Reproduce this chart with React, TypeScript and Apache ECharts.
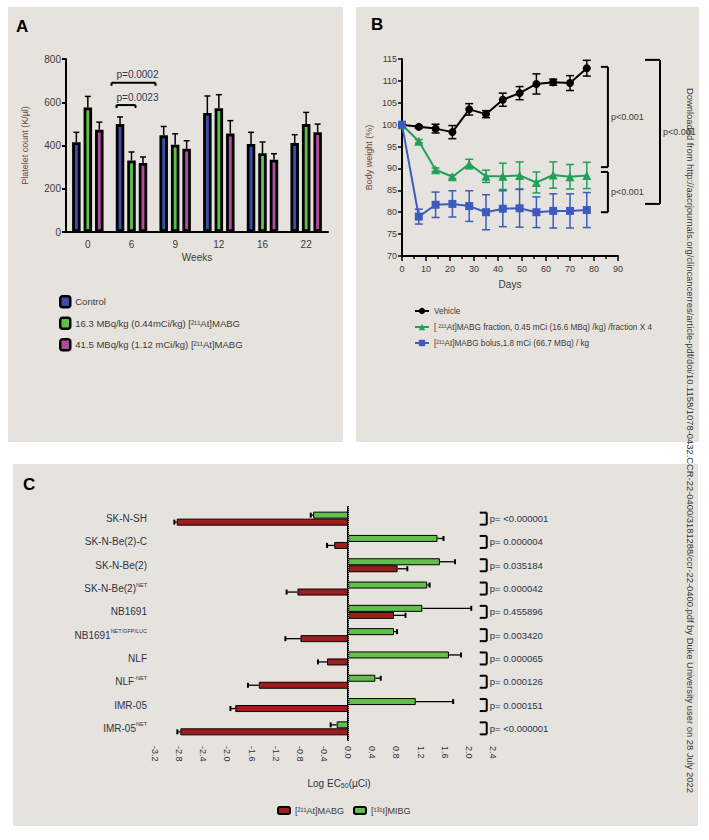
import React, { useEffect, useRef } from "react";
import * as echarts from "echarts";

// ---------- Panel A : platelet counts ----------
const weeks = ["0", "6", "9", "12", "16", "22"];
const namesA = ["Control", "16.3 MBq/kg (0.44mCi/kg) [²¹¹At]MABG", "41.5 MBq/kg (1.12 mCi/kg) [²¹¹At]MABG"];
const controlMean = [415, 499, 447, 550, 407, 411];
const controlErr = [46, 33, 41, 79, 54, 39];
const lowDoseMean = [576, 331, 404, 572, 364, 499];
const lowDoseErr = [51, 39, 50, 63, 52, 54];
const highDoseMean = [473, 319, 385, 455, 334, 461];
const highDoseErr = [35, 28, 37, 60, 28, 38];
const sigALabels = ["p=0.0002", "p=0.0023"];
const sigACat = [1, 1];
const sigAValue = [690, 587];

// ---------- Panel B : body weight ----------
const days = [0, 7, 14, 21, 28, 35, 42, 49, 56, 63, 70, 77];
const namesB = ["Vehicle", "[ ²¹¹At]MABG fraction, 0.45 mCi (16.6 MBq) /kg) /fraction X 4", "[²¹¹At]MABG bolus,1.8 mCi (66.7 MBq) / kg"];
const vehicle = [100, 99.5, 99.1, 98.3, 103.5, 102.4, 105.7, 107.2, 109.3, 109.7, 109.5, 112.9];
const vehicleErr = [0.3, 0.3, 1.0, 1.5, 1.3, 0.8, 1.5, 1.5, 2.3, 0.7, 1.7, 1.8];
const fraction = [100, 96.2, 89.7, 88.1, 91.0, 88.2, 88.2, 88.4, 86.8, 88.5, 88.1, 88.4];
const fractionErr = [0.3, 0.4, 0.4, 0.4, 1.1, 1.4, 3.0, 3.1, 2.4, 3.0, 2.8, 3.0];
const bolus = [100, 79.0, 81.7, 81.9, 81.4, 80.0, 80.8, 80.9, 80.0, 80.3, 80.3, 80.5];
const bolusErr = [0.3, 1.7, 2.9, 3.0, 3.5, 4.0, 4.1, 4.3, 3.5, 3.9, 3.9, 4.0];
const sigBLabels = ["p<0.001", "p<0.001", "p<0.001"];
const sigBX = [85.8, 85.8, 107.5];
const sigBTop = [113.2, 89.2, 114.8];
const sigBBottom = [90.3, 80.0, 81.9];

// ---------- Panel C : log EC50 ----------
const cellBase = ["SK-N-SH", "SK-N-Be(2)-C", "SK-N-Be(2)", "SK-N-Be(2)", "NB1691", "NB1691", "NLF", "NLF", "IMR-05", "IMR-05"];
const cellSup = ["", "", "", "NET", "", "NET/GFP/LUC", "", "-NET", "", "NET"];
const namesC = ["[²¹¹At]MABG", "[¹³¹I]MIBG"];
const mabg = [-2.84, -0.23, 0.82, -0.84, 0.76, -0.79, -0.35, -1.48, -1.87, -2.78];
const mabgErr = [0.04, 0.12, 0.16, 0.18, 0.19, 0.25, 0.15, 0.18, 0.08, 0.05];
const mibg = [-0.58, 1.48, 1.52, 1.31, 1.23, 0.76, 1.67, 0.45, 1.12, -0.19];
const mibgErr = [0.04, 0.1, 0.25, 0.04, 0.81, 0.05, 0.2, 0.09, 0.62, 0.1];
const pValues = ["p= <0.000001", "p= 0.000004", "p= 0.035184", "p= 0.000042", "p= 0.455896", "p= 0.003420", "p= 0.000065", "p= 0.000126", "p= 0.000151", "p= <0.000001"];
const pBracketX = 2.18;

const watermark =
  "Downloaded from http://aacrjournals.org/clincancerres/article-pdf/doi/10.1158/1078-0432.CCR-22-0400/3181288/ccr-22-0400.pdf by Duke University user on 28 July 2022";

const FONT = "'Liberation Sans', Arial, sans-serif";
const NARROW = "'Liberation Sans Narrow', 'Liberation Sans', Arial, sans-serif";
const TXT = "#3f3833";
const BG = "#e6e3df";

const colorsA = ["#3b4fa8", "#5cc04a", "#b04c9e"];
const colorsB = ["#000000", "#22a05a", "#3c5bbd"];
const RED = "#9e1c1c";
const GREEN = "#62c04a";

const BAR_W_A = 8.5;
const BAR_GAP_A = 0.35;
const BAR_STEP_A = BAR_W_A * (1 + BAR_GAP_A);

function errA(vals: number[], errs: number[], idx: number) {
  const off = (idx - 1) * BAR_STEP_A;
  return {
    type: "custom",
    xAxisIndex: 0,
    yAxisIndex: 0,
    z: 1,
    clip: false,
    data: vals.map((v, i) => [i, v, errs[i]]),
    encode: { x: 0, y: 1 },
    renderItem: (params: any, api: any) => {
      const c = api.value(0);
      const v = api.value(1);
      const e = api.value(2);
      const p0 = api.coord([c, v]);
      const p1 = api.coord([c, v + e]);
      const x = p0[0] + off;
      const st = { stroke: "#000", lineWidth: 1.5 };
      return {
        type: "group",
        children: [
          { type: "line", shape: { x1: x, y1: p0[1], x2: x, y2: p1[1] }, style: st },
          { type: "line", shape: { x1: x - 3, y1: p1[1], x2: x + 3, y2: p1[1] }, style: st },
        ],
      };
    },
  };
}

function errB(vals: number[], errs: number[], color: string) {
  return {
    type: "custom",
    xAxisIndex: 1,
    yAxisIndex: 1,
    z: 2,
    clip: false,
    data: days.map((d, i) => [d, vals[i], errs[i]]),
    encode: { x: 0, y: 1 },
    renderItem: (params: any, api: any) => {
      const x = api.value(0);
      const y = api.value(1);
      const e = api.value(2);
      const t = api.coord([x, y + e]);
      const b = api.coord([x, y - e]);
      const w = 4;
      const st = { stroke: color, lineWidth: 1.5 };
      return {
        type: "group",
        children: [
          { type: "line", shape: { x1: t[0], y1: t[1], x2: b[0], y2: b[1] }, style: st },
          { type: "line", shape: { x1: t[0] - w, y1: t[1], x2: t[0] + w, y2: t[1] }, style: st },
          { type: "line", shape: { x1: b[0] - w, y1: b[1], x2: b[0] + w, y2: b[1] }, style: st },
        ],
      };
    },
  };
}

function errC(vals: number[], errs: number[], dy: number) {
  return {
    type: "custom",
    xAxisIndex: 2,
    yAxisIndex: 2,
    z: 1,
    clip: false,
    data: vals.map((v, i) => [v, i, errs[i]]),
    encode: { x: 0, y: 1 },
    renderItem: (params: any, api: any) => {
      const v = api.value(0);
      const c = api.value(1);
      const e = api.value(2);
      const end = v >= 0 ? v + e : v - e;
      const p0 = api.coord([v, c]);
      const p1 = api.coord([end, c]);
      const y = p0[1] + dy;
      const st = { stroke: "#000", lineWidth: 1.3 };
      return {
        type: "group",
        children: [
          { type: "line", shape: { x1: p0[0], y1: y, x2: p1[0], y2: y }, style: st },
          { type: "line", shape: { x1: p1[0], y1: y - 2.5, x2: p1[0], y2: y + 2.5 }, style: { stroke: "#000", lineWidth: 2 } },
        ],
      };
    },
  };
}

export default function App() {
  const ref = useRef<HTMLDivElement>(null);
  useEffect(() => {
    document.body.style.margin = "0";
    if (!ref.current) return;
    const chart = echarts.init(ref.current, undefined, { renderer: "svg" });

    const bracketSpansA = [
      [-20, 24],
      [-15, 4],
    ];

    const option: any = {
      animation: false,
      textStyle: { fontFamily: FONT, color: TXT },
      graphic: [
        { type: "rect", z: -10, shape: { x: 8, y: 7, width: 335, height: 435 }, style: { fill: BG } },
        { type: "rect", z: -10, shape: { x: 356, y: 7, width: 343, height: 435 }, style: { fill: BG } },
        { type: "rect", z: -10, shape: { x: 13, y: 464, width: 685, height: 362 }, style: { fill: BG } },
        { type: "text", z: 50, x: 16, y: 18, style: { text: "A", font: `bold 17px ${FONT}`, fill: "#000" } },
        { type: "text", z: 50, x: 371, y: 16, style: { text: "B", font: `bold 17px ${FONT}`, fill: "#000" } },
        { type: "text", z: 50, x: 23, y: 476, style: { text: "C", font: `bold 17px ${FONT}`, fill: "#000" } },
        {
          type: "text",
          z: 50,
          x: 339,
          y: 783,
          style: {
            text: "Log EC{sub|50}(µCi)",
            font: `10px ${FONT}`,
            fill: "#2c3344",
            textAlign: "center",
            textVerticalAlign: "middle",
            rich: {
              sub: { fontSize: 7, verticalAlign: "bottom", fontFamily: FONT, fill: "#2c3344", padding: [4, 0, 0, 0] },
            },
          },
        },
        {
          type: "text",
          z: 60,
          x: 690,
          y: 88,
          rotation: -Math.PI / 2,
          style: {
            text: watermark,
            font: `9.4px ${FONT}`,
            fill: "#333",
            textAlign: "left",
            textVerticalAlign: "middle",
          },
        },
      ],
      legend: [
        {
          data: namesA,
          orient: "vertical",
          left: 54,
          top: 290,
          itemWidth: 10,
          itemHeight: 11,
          itemGap: 8,
          textStyle: { fontFamily: NARROW, fontSize: 9.5, color: TXT },
          itemStyle: { borderColor: "#000", borderWidth: 2.5 },
          selectedMode: false,
        },
        {
          data: namesB,
          orient: "vertical",
          left: 409,
          top: 302,
          itemWidth: 14,
          itemHeight: 8,
          itemGap: 8,
          textStyle: { fontFamily: NARROW, fontSize: 8.2, color: TXT },
          selectedMode: false,
        },
        {
          data: namesC,
          orient: "horizontal",
          left: 272,
          top: 801,
          itemWidth: 12,
          itemHeight: 7,
          itemGap: 9,
          textStyle: { fontFamily: NARROW, fontSize: 9, color: TXT },
          selectedMode: false,
        },
      ],
      grid: [
        { left: 66, top: 59, width: 262, height: 173 },
        { left: 402, top: 59, width: 216, height: 197 },
        { left: 155, top: 507, width: 338, height: 233 },
      ],
      xAxis: [
        {
          gridIndex: 0,
          type: "category",
          data: weeks,
          boundaryGap: true,
          name: "Weeks",
          nameLocation: "middle",
          nameGap: 20,
          nameTextStyle: { fontSize: 10, color: TXT },
          axisTick: { show: false },
          axisLine: { lineStyle: { color: "#000", width: 2 } },
          axisLabel: { color: TXT, fontSize: 10, margin: 7 },
        },
        {
          gridIndex: 1,
          type: "value",
          min: 0,
          max: 90,
          interval: 10,
          name: "Days",
          nameLocation: "middle",
          nameGap: 23,
          nameTextStyle: { fontSize: 10, color: TXT },
          splitLine: { show: false },
          axisLine: { lineStyle: { color: "#000", width: 2 } },
          axisTick: { length: 5, lineStyle: { color: "#000", width: 1.5 } },
          minorTick: { show: true, splitNumber: 2, length: 3, lineStyle: { color: "#000", width: 1.5 } },
          axisLabel: { color: TXT, fontSize: 9, margin: 8 },
        },
        {
          gridIndex: 2,
          type: "value",
          min: -3.2,
          max: 2.4,
          interval: 0.4,
          splitLine: { show: false },
          axisLine: { lineStyle: { color: "#000", width: 2 } },
          axisTick: { length: 4, lineStyle: { color: "#000", width: 1.5 } },
          axisLabel: {
            color: "#2c3344",
            fontSize: 9,
            rotate: -90,
            margin: 6,
            formatter: (v: number) => v.toFixed(1),
          },
        },
      ],
      yAxis: [
        {
          gridIndex: 0,
          type: "value",
          min: 0,
          max: 800,
          interval: 200,
          name: "Platelet count (K/µl)",
          nameLocation: "middle",
          nameGap: 37,
          nameTextStyle: { fontSize: 9, color: "#6b4a35" },
          splitLine: { show: false },
          axisLine: { show: true, lineStyle: { color: "#000", width: 2 } },
          axisTick: { show: true, length: 4, lineStyle: { color: "#000", width: 2 } },
          axisLabel: { color: TXT, fontSize: 10, margin: 5 },
        },
        {
          gridIndex: 1,
          type: "value",
          min: 70,
          max: 115,
          interval: 5,
          name: "Body weight (%)",
          nameLocation: "middle",
          nameGap: 29,
          nameTextStyle: { fontSize: 9, color: "#6b4a35" },
          splitLine: { show: false },
          axisLine: { show: true, lineStyle: { color: "#000", width: 2 } },
          axisTick: { show: true, length: 4, lineStyle: { color: "#000", width: 1.5 } },
          axisLabel: { color: TXT, fontSize: 9, margin: 5 },
        },
        {
          gridIndex: 2,
          type: "category",
          inverse: true,
          data: cellBase.map((b, i) => b + cellSup[i]),
          axisLine: { lineStyle: { color: "#000", width: 2 } },
          axisTick: { alignWithLabel: true, length: 3, lineStyle: { color: "#000", width: 2 } },
          axisLabel: {
            color: "#2c3344",
            fontSize: 10,
            margin: 8,
            formatter: (_v: string, i: number) =>
              cellSup[i] ? `{b|${cellBase[i]}}{s|${cellSup[i]}}` : `{b|${cellBase[i]}}`,
            rich: {
              b: { fontSize: 10, color: "#2c3344", lineHeight: 14, fontFamily: FONT },
              s: { fontSize: 5.5, color: "#2c3344", verticalAlign: "top", lineHeight: 8, fontFamily: FONT },
            },
          },
        },
      ],
      series: [
        // Panel A bars
        ...[controlMean, lowDoseMean, highDoseMean].map((vals, k) => ({
          type: "bar",
          name: namesA[k],
          xAxisIndex: 0,
          yAxisIndex: 0,
          data: vals,
          barWidth: BAR_W_A,
          barGap: `${BAR_GAP_A * 100}%`,
          z: 2,
          itemStyle: { color: colorsA[k], borderColor: "#000", borderWidth: 2.8 },
        })),
        errA(controlMean, controlErr, 0),
        errA(lowDoseMean, lowDoseErr, 1),
        errA(highDoseMean, highDoseErr, 2),
        {
          type: "custom",
          xAxisIndex: 0,
          yAxisIndex: 0,
          z: 5,
          clip: false,
          data: sigACat.map((c, i) => [c, sigAValue[i]]),
          encode: { x: 0, y: 1 },
          renderItem: (params: any, api: any) => {
            const p = api.coord([api.value(0), api.value(1)]);
            const [l, r] = bracketSpansA[params.dataIndex];
            const st = { stroke: "#000", lineWidth: 2 };
            return {
              type: "group",
              children: [
                { type: "line", shape: { x1: p[0] + l, y1: p[1], x2: p[0] + r, y2: p[1] }, style: st },
                { type: "line", shape: { x1: p[0] + l, y1: p[1], x2: p[0] + l, y2: p[1] + 3 }, style: st },
                { type: "line", shape: { x1: p[0] + r, y1: p[1], x2: p[0] + r, y2: p[1] + 3 }, style: st },
                {
                  type: "text",
                  x: p[0] - 15,
                  y: p[1] - 8,
                  style: {
                    text: sigALabels[params.dataIndex],
                    font: `10px ${FONT}`,
                    fill: "#2c3a55",
                    textAlign: "left",
                    textVerticalAlign: "middle",
                  },
                },
              ],
            };
          },
        },
        // Panel B
        errB(vehicle, vehicleErr, colorsB[0]),
        errB(fraction, fractionErr, colorsB[1]),
        errB(bolus, bolusErr, colorsB[2]),
        ...[vehicle, fraction, bolus].map((vals, k) => ({
          type: "line",
          name: namesB[k],
          xAxisIndex: 1,
          yAxisIndex: 1,
          data: days.map((d, i) => [d, vals[i]]),
          symbol: ["circle", "triangle", "rect"][k],
          symbolSize: [8, 9, 8][k],
          z: 3,
          color: colorsB[k],
          lineStyle: { color: colorsB[k], width: 2 },
          itemStyle: { color: colorsB[k] },
        })),
        {
          type: "custom",
          xAxisIndex: 1,
          yAxisIndex: 1,
          z: 5,
          clip: false,
          data: sigBX.map((x, i) => [x, sigBTop[i], sigBBottom[i]]),
          encode: { x: 0, y: [1, 2] },
          renderItem: (params: any, api: any) => {
            const t = api.coord([api.value(0), api.value(1)]);
            const b = api.coord([api.value(0), api.value(2)]);
            const arm = params.dataIndex === 2 ? 15 : 7;
            const st = { stroke: "#000", lineWidth: 2 };
            return {
              type: "group",
              children: [
                { type: "line", shape: { x1: t[0], y1: t[1], x2: b[0], y2: b[1] }, style: st },
                { type: "line", shape: { x1: t[0] - arm, y1: t[1], x2: t[0], y2: t[1] }, style: st },
                { type: "line", shape: { x1: b[0] - arm, y1: b[1], x2: b[0], y2: b[1] }, style: st },
                {
                  type: "text",
                  x: t[0] + 3,
                  y: (t[1] + b[1]) / 2,
                  style: {
                    text: sigBLabels[params.dataIndex],
                    font: `9px ${FONT}`,
                    fill: TXT,
                    textAlign: "left",
                    textVerticalAlign: "middle",
                  },
                },
              ],
            };
          },
        },
        // Panel C
        {
          type: "bar",
          name: namesC[1],
          xAxisIndex: 2,
          yAxisIndex: 2,
          data: mibg,
          barWidth: 7,
          barGap: "0%",
          z: 2,
          itemStyle: { color: GREEN, borderColor: "#000", borderWidth: 1 },
          markLine: {
            silent: true,
            symbol: "none",
            label: { show: false },
            lineStyle: { type: "dotted", color: "#888", width: 1 },
            data: [{ xAxis: 0 }],
          },
        },
        {
          type: "bar",
          name: namesC[0],
          xAxisIndex: 2,
          yAxisIndex: 2,
          data: mabg,
          barWidth: 7,
          barGap: "0%",
          z: 2,
          itemStyle: { color: RED, borderColor: "#000", borderWidth: 1 },
        },
        errC(mibg, mibgErr, -3.5),
        errC(mabg, mabgErr, 3.5),
        {
          type: "custom",
          xAxisIndex: 2,
          yAxisIndex: 2,
          z: 5,
          clip: false,
          data: pValues.map((_, i) => [pBracketX, i]),
          encode: { x: 0, y: 1 },
          renderItem: (params: any, api: any) => {
            const p = api.coord([api.value(0), api.value(1)]);
            const h = 6;
            const xr = p[0] + 7;
            const st = { stroke: "#000", lineWidth: 2 };
            return {
              type: "group",
              children: [
                { type: "line", shape: { x1: p[0], y1: p[1] - h, x2: xr, y2: p[1] - h }, style: st },
                { type: "line", shape: { x1: xr, y1: p[1] - h, x2: xr, y2: p[1] + h }, style: st },
                { type: "line", shape: { x1: p[0], y1: p[1] + h, x2: xr, y2: p[1] + h }, style: st },
                {
                  type: "text",
                  x: xr + 3,
                  y: p[1],
                  style: {
                    text: pValues[params.dataIndex],
                    font: `9.5px ${FONT}`,
                    fill: "#2c3344",
                    textAlign: "left",
                    textVerticalAlign: "middle",
                  },
                },
              ],
            };
          },
        },
      ],
    };
    chart.setOption(option);
    return () => chart.dispose();
  }, []);
  return <div ref={ref} style={{ width: 709, height: 840 }} />;
}
